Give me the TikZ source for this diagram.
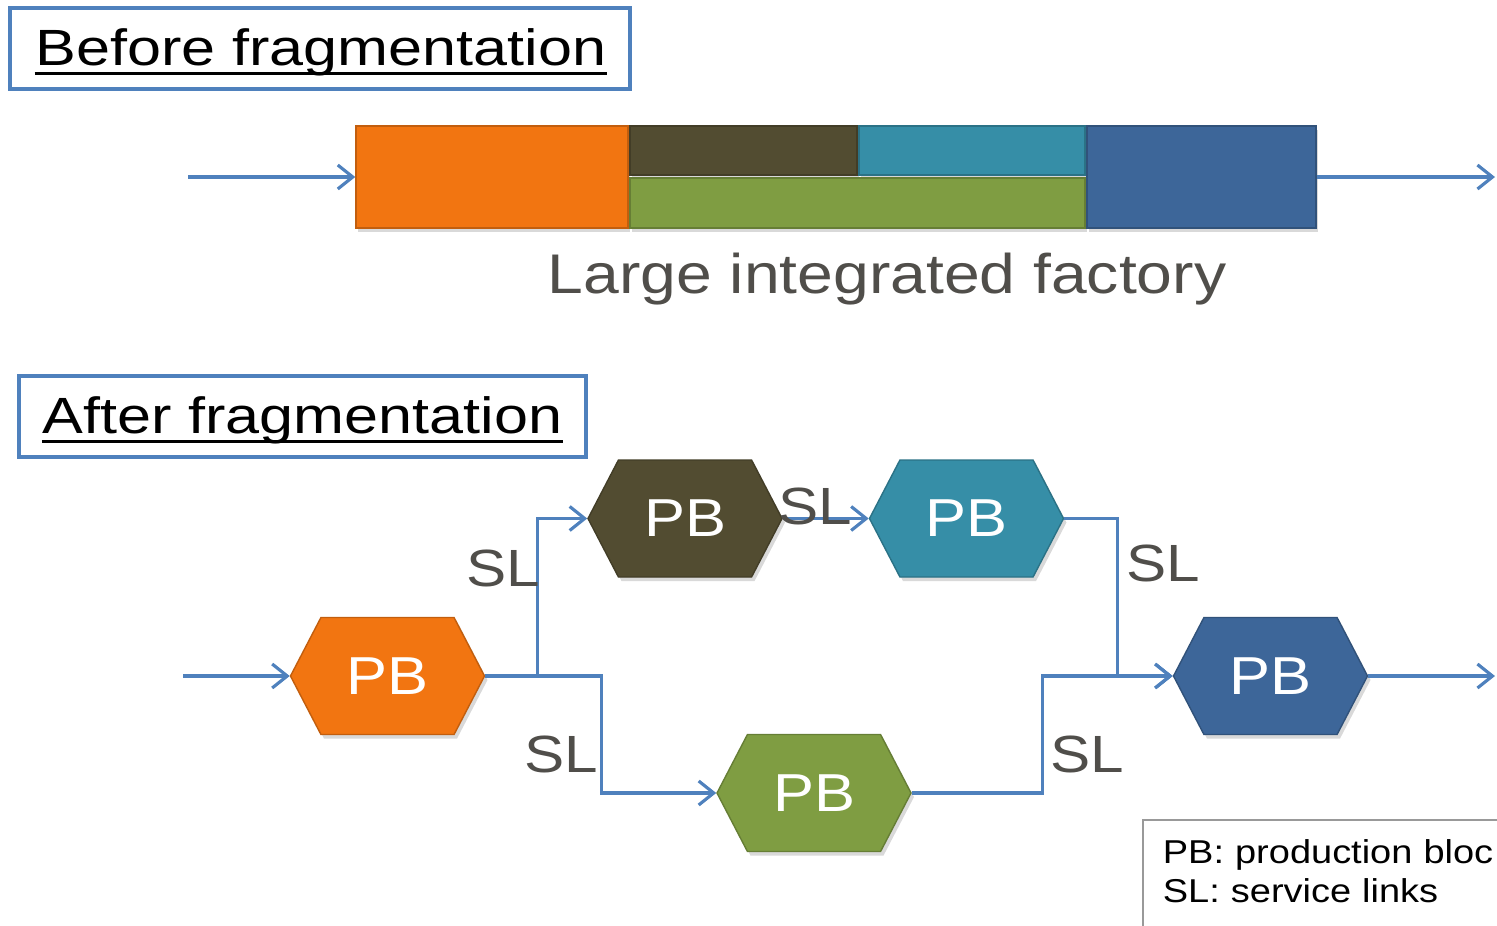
\documentclass[tikz,border=0pt]{standalone}
\usepackage{fontspec}
\setmainfont{Liberation Sans}
\newfontfamily\titlefont[FakeStretch=1.2]{Liberation Sans}
\newfontfamily\labelfont[FakeStretch=1.15]{Liberation Sans}
\usetikzlibrary{arrows.meta,shapes.symbols,shadows}

\definecolor{pborange}{RGB}{242,117,17}
\definecolor{pbolive}{RGB}{82,76,49}
\definecolor{pbteal}{RGB}{54,142,167}
\definecolor{pbgreen}{RGB}{127,157,66}
\definecolor{pbblue}{RGB}{61,102,153}
\definecolor{linkblue}{RGB}{79,129,189}
\definecolor{slgrey}{RGB}{80,78,74}

\tikzset{
  pblock/.style={shape=signal,signal to=east and west,signal pointer angle=125,
    minimum width=1.94cm,minimum height=1.17cm,inner sep=0pt,fill=#1,
    draw=#1!80!black,line width=0.4pt,text=white,
    font=\labelfont\fontsize{15.2}{17}\selectfont,
    drop shadow={opacity=0.3,shadow xshift=0.03cm,shadow yshift=-0.04cm}},
  bar/.style={rectangle,fill=#1,draw=#1!80!black,line width=0.4pt,inner sep=0pt,
    drop shadow={opacity=0.3,shadow xshift=0.02cm,shadow yshift=-0.04cm}},
  titlebox/.style={rectangle,draw=linkblue,line width=0.9pt,inner sep=0pt},
  titletext/.style={inner sep=0pt,anchor=base,font=\titlefont\fontsize{14.5}{17}\selectfont},
  sl/.style={inner sep=0pt,anchor=base,text=slgrey,font=\labelfont\fontsize{14.9}{17}\selectfont},
  link/.style={linkblue,line width=0.9pt},
  arr/.style={link,-{Straight Barb[length=1.5mm,width=2.4mm,line width=0.9pt]}}
}

\begin{document}
\begin{tikzpicture}

\useasboundingbox (0,0) rectangle (14.97,-9.26);
\clip (0,0) rectangle (14.97,-9.26);

% before fragmentation
\node (beforebox) at (3.20,-0.485) [titlebox,minimum width=6.20cm,minimum height=0.81cm] {};
\node (beforetxt) at (3.21,-0.655) [titletext] {Before fragmentation};
\draw[line width=0.8pt] ([yshift=-0.08cm]beforetxt.base west) -- ([yshift=-0.08cm]beforetxt.base east);

\node (orangebar) at (4.92,-1.77) [bar=pborange,minimum width=2.72cm,minimum height=1.02cm] {};
\node (olivebar) at (7.435,-1.505) [bar=pbolive,minimum width=2.27cm,minimum height=0.49cm] {};
\node (tealbar) at (9.72,-1.505) [bar=pbteal,minimum width=2.26cm,minimum height=0.49cm] {};
\node (greenbar) at (8.575,-2.03) [bar=pbgreen,minimum width=4.55cm,minimum height=0.50cm] {};
\node (bluebar) at (12.015,-1.77) [bar=pbblue,minimum width=2.29cm,minimum height=1.02cm] {};

\node (factory) at (8.87,-2.93) [inner sep=0pt,anchor=base,text=slgrey,
  font=\labelfont\fontsize{15.9}{18}\selectfont] {Large integrated factory};

\coordinate (inbar) at (1.88,-1.77);
\coordinate (outbar) at (14.95,-1.77);
\draw[arr] (inbar) -- (orangebar.west);
\draw[arr] (bluebar.east) -- (outbar);

% after fragmentation
\node (afterbox) at (3.025,-4.165) [titlebox,minimum width=5.67cm,minimum height=0.81cm] {};
\node (aftertxt) at (3.025,-4.335) [titletext] {After fragmentation};
\draw[line width=0.8pt] ([yshift=-0.08cm]aftertxt.base west) -- ([yshift=-0.08cm]aftertxt.base east);

\node (pbO) at (3.875,-6.76) [pblock=pborange] {PB};
\node (pbD) at (6.85,-5.185) [pblock=pbolive] {PB};
\node (pbT) at (9.665,-5.185) [pblock=pbteal] {PB};
\node (pbG) at (8.14,-7.93) [pblock=pbgreen] {PB};
\node (pbB) at (12.705,-6.76) [pblock=pbblue] {PB};

\coordinate (inpb) at (1.83,-6.76);
\coordinate (outpb) at (14.95,-6.76);

\draw[arr] (inpb) -- (pbO.west);
\draw[arr] (pbO.east) -- ++(0.52,0) |- (pbD.west);
\draw[arr] (pbO.east) -- ++(1.16,0) |- (pbG.west);
\draw[arr] (pbD.east) -- (pbT.west);
\draw[arr] (pbT.east) -- ++(0.53,0) |- (pbB.west);
\draw[arr] (pbG.east) -- ++(1.31,0) |- (pbB.west);
\draw[arr] (pbB.east) -- (outpb);

\node (sl1) at (5.035,-5.86) [sl] {SL};
\node (sl2) at (8.15,-5.24) [sl] {SL};
\node (sl3) at (11.635,-5.81) [sl] {SL};
\node (sl4) at (10.875,-7.72) [sl] {SL};
\node (sl5) at (5.61,-7.72) [sl] {SL};

\node (legend) at (11.42,-8.19) [anchor=north west,draw=black!40,line width=0.5pt,
  inner xsep=0.2cm,inner ysep=0.2cm,text width=3.8cm,align=left,text depth=0.9cm,
  font=\labelfont\fontsize{9.4}{11.1}\selectfont] {PB: production bloc\\SL: service links};

\end{tikzpicture}
\end{document}
